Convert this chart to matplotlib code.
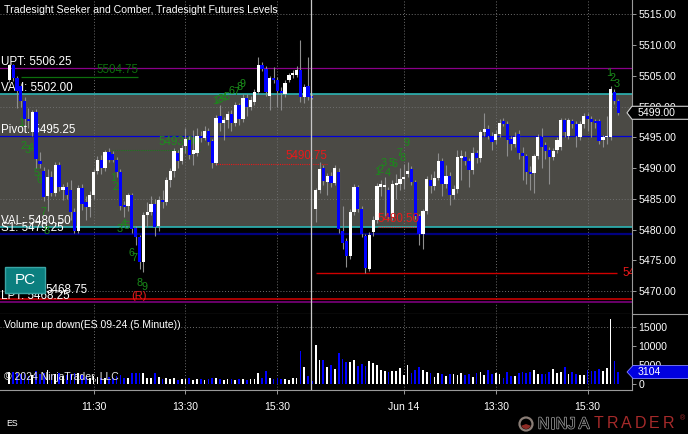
import matplotlib
matplotlib.use("Agg")
import numpy as np
import matplotlib.pyplot as plt
import matplotlib.patheffects as pe
from matplotlib.lines import Line2D
from matplotlib.patches import Polygon, Rectangle, Circle, Wedge
from matplotlib.transforms import blended_transform_factory

plt.rcParams['font.family'] = ['Liberation Sans', 'DejaVu Sans']

TITLE = "Tradesight Seeker and Comber, Tradesight Futures Levels"
VOL_TITLE = "Volume up down(ES 09-24 (5 Minute))"

# ES 09-24, 5 minute bars, Jun 13 (bars 0-79) and Jun 14 (bars 80-159)
opens = [
    5504.4, 5506.7, 5504.6, 5503.3, 5500.9, 5498.0, 5495.8, 5499.1, 5491.1, 5489.5,
    5485.5, 5488.5, 5486.0, 5490.5, 5486.4, 5487.0, 5486.4, 5482.8, 5479.8, 5486.7,
    5484.5, 5483.6, 5485.6, 5489.5, 5491.3, 5490.0, 5492.6, 5492.3, 5491.3, 5489.4,
    5484.0, 5483.8, 5485.6, 5480.2, 5478.8, 5474.8, 5482.3, 5482.9, 5484.1, 5480.6,
    5484.8, 5484.5, 5488.0, 5489.6, 5492.5, 5491.2, 5493.6, 5494.6, 5492.3, 5492.4,
    5495.3, 5494.9, 5496.1, 5494.4, 5490.9, 5498.4, 5497.3, 5497.8, 5498.8, 5497.3,
    5500.2, 5498.0, 5501.4, 5500.0, 5500.7, 5502.3, 5506.8, 5506.2, 5501.8, 5504.6,
    5504.3, 5502.5, 5502.0, 5504.4, 5505.1, 5505.2, 5506.0, 5501.5, 5503.3, 5501.7,
    5483.3, 5486.4, 5490.0, 5487.8, 5488.8, 5487.6, 5489.4, 5479.7, 5478.1, 5475.7,
    5482.8, 5486.9, 5483.3, 5478.9, 5473.6, 5479.6, 5481.6, 5486.9, 5487.0, 5486.5,
    5482.0, 5487.3, 5487.5, 5488.3, 5489.0, 5489.8, 5487.7, 5482.2, 5479.3, 5483.0,
    5488.1, 5487.1, 5488.4, 5491.1, 5487.5, 5488.8, 5485.6, 5486.6, 5491.6, 5491.8,
    5491.2, 5489.7, 5492.5, 5491.6, 5495.8, 5496.3, 5495.3, 5494.5, 5495.6, 5497.6,
    5497.2, 5494.7, 5493.9, 5495.6, 5492.4, 5491.9, 5489.3, 5489.2, 5491.9, 5495.1,
    5493.7, 5493.0, 5491.8, 5493.0, 5493.4, 5497.8, 5495.3, 5497.6, 5497.2, 5495.1,
    5497.2, 5498.5, 5498.0, 5497.6, 5497.6, 5494.5, 5495.0, 5495.1, 5502.3, 5500.9,
]
highs = [
    5507.0, 5507.0, 5505.0, 5503.8, 5501.5, 5499.8, 5499.5, 5499.6, 5492.6, 5490.2,
    5489.8, 5489.5, 5491.0, 5491.0, 5487.5, 5487.8, 5488.0, 5483.5, 5487.3, 5487.5,
    5485.5, 5486.3, 5489.8, 5492.0, 5492.2, 5493.0, 5493.2, 5492.8, 5491.8, 5489.8,
    5484.6, 5486.0, 5486.0, 5480.6, 5479.2, 5482.8, 5484.5, 5485.5, 5485.0, 5485.5,
    5486.5, 5488.5, 5490.0, 5493.2, 5493.0, 5493.8, 5496.5, 5495.2, 5496.2, 5496.5,
    5496.0, 5496.8, 5496.6, 5494.8, 5498.6, 5500.2, 5498.3, 5499.3, 5499.4, 5500.8,
    5500.6, 5502.0, 5502.0, 5501.8, 5502.8, 5508.1, 5507.3, 5506.6, 5505.0, 5506.5,
    5504.8, 5503.2, 5504.4, 5505.5, 5506.0, 5506.6, 5510.9, 5503.6, 5508.0, 5502.0,
    5486.8, 5491.0, 5490.5, 5489.2, 5489.3, 5490.5, 5490.0, 5483.8, 5478.6, 5483.3,
    5487.4, 5487.3, 5483.8, 5479.3, 5479.6, 5482.2, 5487.6, 5488.0, 5488.5, 5487.0,
    5488.0, 5489.0, 5490.0, 5490.6, 5491.0, 5490.3, 5488.1, 5482.6, 5483.4, 5488.8,
    5489.0, 5489.5, 5492.5, 5491.6, 5490.5, 5489.3, 5487.2, 5493.0, 5493.0, 5492.8,
    5491.6, 5493.5, 5493.0, 5496.2, 5499.0, 5497.0, 5495.8, 5496.2, 5498.0, 5498.2,
    5497.6, 5495.3, 5495.8, 5496.2, 5493.5, 5492.3, 5490.3, 5492.3, 5495.5, 5496.5,
    5494.2, 5493.5, 5493.3, 5495.0, 5498.2, 5498.2, 5498.2, 5498.0, 5497.7, 5497.6,
    5498.9, 5499.0, 5498.5, 5498.0, 5498.0, 5495.4, 5498.4, 5503.3, 5502.8, 5501.3,
]
lows = [
    5504.0, 5504.2, 5499.8, 5500.0, 5497.0, 5496.5, 5495.2, 5490.0, 5490.0, 5484.6,
    5483.0, 5485.4, 5485.5, 5486.2, 5484.8, 5485.0, 5481.5, 5479.5, 5479.5, 5483.2,
    5481.5, 5482.0, 5485.0, 5489.0, 5489.0, 5489.5, 5491.0, 5491.0, 5488.5, 5483.2,
    5482.0, 5483.0, 5479.5, 5477.5, 5473.6, 5473.1, 5480.5, 5482.4, 5479.0, 5479.8,
    5483.5, 5484.0, 5487.0, 5488.5, 5490.0, 5490.6, 5492.5, 5491.5, 5490.5, 5492.0,
    5494.3, 5494.5, 5493.8, 5490.1, 5490.5, 5496.0, 5494.5, 5496.5, 5496.0, 5496.8,
    5497.0, 5497.5, 5498.5, 5499.5, 5500.2, 5502.0, 5505.8, 5501.8, 5499.5, 5503.8,
    5500.0, 5499.5, 5501.5, 5504.0, 5504.6, 5504.8, 5500.8, 5500.6, 5501.0, 5501.2,
    5481.2, 5486.0, 5487.3, 5485.7, 5487.0, 5487.2, 5479.5, 5476.9, 5474.0, 5475.2,
    5482.3, 5482.8, 5478.8, 5473.0, 5473.2, 5479.0, 5481.0, 5485.5, 5482.2, 5481.5,
    5481.5, 5485.0, 5486.5, 5486.6, 5488.5, 5487.2, 5481.8, 5477.5, 5476.9, 5482.5,
    5486.0, 5486.5, 5488.0, 5485.5, 5486.8, 5484.0, 5485.0, 5486.0, 5488.0, 5490.5,
    5487.0, 5489.0, 5490.8, 5491.0, 5495.3, 5494.8, 5493.0, 5494.0, 5495.0, 5496.8,
    5492.0, 5493.0, 5493.5, 5491.5, 5488.0, 5487.5, 5486.5, 5486.0, 5491.5, 5490.0,
    5491.5, 5487.5, 5491.3, 5492.5, 5493.0, 5495.0, 5494.8, 5496.6, 5493.5, 5494.5,
    5496.5, 5496.0, 5495.0, 5496.5, 5494.0, 5493.5, 5493.9, 5494.6, 5500.5, 5498.6,
]
closes = [
    5506.8, 5504.6, 5502.5, 5500.9, 5498.0, 5497.6, 5499.1, 5491.5, 5490.6, 5485.3,
    5488.5, 5486.0, 5490.5, 5486.9, 5487.0, 5485.6, 5482.8, 5479.8, 5486.7, 5484.1,
    5483.6, 5485.6, 5489.3, 5491.3, 5490.0, 5492.6, 5491.4, 5491.4, 5489.4, 5483.8,
    5483.6, 5485.6, 5480.1, 5478.8, 5474.8, 5482.4, 5482.9, 5484.1, 5480.4, 5484.8,
    5484.5, 5488.0, 5489.6, 5492.8, 5491.2, 5493.3, 5494.7, 5492.1, 5493.0, 5495.3,
    5494.9, 5496.1, 5494.2, 5490.9, 5498.2, 5497.3, 5497.8, 5498.8, 5497.3, 5500.2,
    5498.0, 5501.4, 5500.0, 5501.0, 5502.3, 5506.8, 5506.2, 5502.3, 5504.6, 5504.3,
    5502.5, 5502.2, 5503.9, 5505.1, 5505.5, 5506.0, 5501.5, 5503.2, 5501.5, 5501.4,
    5486.4, 5489.8, 5487.9, 5488.7, 5487.6, 5490.0, 5480.1, 5477.9, 5475.7, 5482.8,
    5486.9, 5483.3, 5479.3, 5473.7, 5479.2, 5481.6, 5487.1, 5487.4, 5487.2, 5482.0,
    5487.5, 5487.6, 5488.3, 5488.6, 5489.6, 5487.7, 5482.2, 5479.3, 5483.0, 5488.3,
    5487.1, 5488.4, 5491.1, 5487.5, 5488.8, 5485.6, 5486.6, 5491.8, 5491.9, 5491.1,
    5489.7, 5492.5, 5491.6, 5495.8, 5496.4, 5495.3, 5494.3, 5495.6, 5497.4, 5497.2,
    5494.5, 5494.0, 5495.1, 5492.4, 5491.9, 5489.3, 5489.0, 5491.9, 5495.1, 5493.5,
    5492.8, 5491.8, 5492.8, 5494.6, 5497.8, 5495.8, 5497.8, 5497.1, 5495.3, 5497.2,
    5498.4, 5498.0, 5497.5, 5497.3, 5494.4, 5495.0, 5495.1, 5502.9, 5500.9, 5499.0,
]
volumes = [
    3000, 3200, 2900, 2600, 2800, 2000, 2400, 3300, 2500, 2800,
    3700, 2400, 2600, 2900, 2000, 2200, 2500, 2700, 2900, 2300,
    1800, 1600, 2000, 1700, 1600, 1500, 1700, 1600, 1900, 2200,
    1600, 1500, 2900, 2900, 2900, 2700, 1600, 1500, 2900, 1800,
    1300, 1500, 1100, 1400, 1000, 1200, 1300, 1400, 1000, 1100,
    1200, 1000, 1300, 1400, 1400, 1100, 1000, 1200, 1300, 1000,
    1100, 1300, 1000, 1200, 1300, 2900, 1500, 3300, 1400, 1200,
    1500, 1100, 1300, 1000, 1400, 1600, 8600, 4500, 2100, 700,
    10400, 6400, 6400, 4500, 5000, 3900, 8200, 6600, 5700, 5700,
    6200, 4800, 5300, 4800, 5900, 5600, 5000, 3700, 3400, 3200,
    3400, 3400, 4100, 2300, 5000, 2700, 3500, 4500, 3500, 3200,
    2700, 1800, 2900, 2500, 1900, 2500, 2500, 2200, 2700, 2200,
    2500, 1800, 2900, 3200, 2200, 3600, 2500, 2700, 2500, 1400,
    3200, 1900, 1900, 2900, 3200, 2700, 3200, 3600, 2500, 2500,
    2500, 3200, 3800, 2900, 3200, 4500, 2500, 3200, 2500, 2200,
    2200, 3600, 3400, 3300, 3800, 3400, 4100, 17300, 5900, 3104,
]

tick_bars = [22, 46, 70, 103, 127, 151]
tick_labels = ["11:30", "13:30", "15:30", "Jun 14", "13:30", "15:30"]
session_break = 78.8

price_ticks = [5470, 5475, 5480, 5485, 5490, 5495, 5500, 5505, 5510, 5515]
price_grid = [5470, 5485, 5500, 5515]
vol_ticks = [0, 5000, 10000, 15000]

level_names = ["UPT", "VAH", "Pivot", "VAL", "S1", "LPT"]
level_values = [5506.25, 5502.00, 5495.25, 5480.50, 5479.25, 5468.25]
level_colors = ["#8a008a", "#2cb5b5", "#0000d8", "#2cb5b5", "#000080", "#6a006a"]
level_widths = [0.9, 1.2, 0.9, 1.2, 1.6, 1.4]
value_area = (5480.50, 5502.00)
s2_value = 5468.75
day2_low = 5473.00

# seeker / comber counts: (text, bar, price)
counts = [
    ("1", 3.0, 5497.3), ("2", 3.8, 5493.6), ("3", 4.9, 5493.0), ("4", 5.7, 5493.3),
    ("5", 7.2, 5489.2), ("6", 8.0, 5488.1), ("7", 9.0, 5482.9), ("8", 9.8, 5479.8),
    ("1", 27.1, 5488.4), ("2", 27.6, 5486.9), ("3", 28.9, 5480.1), ("4", 30.0, 5480.9),
    ("5", 30.7, 5480.6), ("6", 32.0, 5476.2), ("7", 32.8, 5475.4), ("8", 34.1, 5471.3),
    ("9", 35.2, 5470.7),
    ("1", 53.7, 5500.9), ("2", 54.5, 5501.1), ("3", 55.3, 5501.2), ("4", 56.1, 5501.4),
    ("5", 56.8, 5501.6), ("6", 58.1, 5502.5), ("7", 59.2, 5502.4), ("8", 60.0, 5503.2),
    ("9", 61.0, 5503.7),
    ("1", 96.0, 5489.4), ("2", 96.8, 5489.7), ("3", 97.8, 5490.9), ("4", 98.9, 5489.2),
    ("5", 99.9, 5490.9), ("6", 100.7, 5490.7), ("7", 102.0, 5492.5), ("8", 102.8, 5491.6),
    ("9", 103.8, 5494.1),
    ("1", 156.6, 5505.5), ("2", 157.6, 5504.7), ("3", 158.7, 5503.7),
]
# count-based reference lines: (price, first bar, last bar)
seeker_green = (5504.75, 3.0, 33.6)
seeker_green2 = (5493.00, 26.8, 49.8)
comber_red = (5490.75, 53.7, 83.0)
comber_red2 = (5480.50, 96.3, 106.8)

W, H = 688, 434
X0, BAR_PX = 9.3, 3.83
P_RANGE = (5466.28, 5517.34)
V_RANGE = (-1700, 18560)

GREEN = "#1a8c1a"
RED = "#e8191a"
GRAYLINE = "#9a9a9a"


def fx(px):
    return px / W


def fy(py):
    return 1 - py / H


def bx(px):
    return (px - X0) / BAR_PX


fig = plt.figure(figsize=(W / 100, H / 100), dpi=100, facecolor="black")
ax = fig.add_axes([0, fy(314), fx(632), 314 / H], facecolor="black")
axv = fig.add_axes([0, fy(390), fx(632), 76 / H], facecolor="black")

o = np.array(opens)
c = np.array(closes)
hi = np.array(highs)
lo = np.array(lows)
x = np.arange(len(o))
colors = np.where(c >= o, "#ffffff", "#0000ff")

for a in (ax, axv):
    a.set_xlim(bx(0), bx(632))
    for s in a.spines.values():
        s.set_visible(False)
    for s in ("right", "bottom"):
        a.spines[s].set_visible(True)
        a.spines[s].set_color(GRAYLINE)
        a.spines[s].set_linewidth(0.8)
    for tb in tick_bars:
        a.axvline(tb, color="#6e6e6e", lw=0.7, ls=(0, (1, 2)), zorder=1)
    a.axvline(session_break, color="#c8c8c8", lw=0.9, zorder=6)

# price panel
ax.set_ylim(*P_RANGE)
ax.axhspan(*value_area, color="#4b4a45", zorder=0, lw=0)
for g in price_grid:
    ax.axhline(g, color="#6e6e6e", lw=0.7, ls=(0, (1, 2)), zorder=1)
for v, col, lw in zip(level_values, level_colors, level_widths):
    ax.axhline(v, color=col, lw=lw, zorder=2)
ax.axhline(s2_value, color="#d80000", lw=1.1, zorder=2)
for name, v in zip(level_names, level_values):
    ax.text(bx(1), v, f"{name}: {v:.2f}", color="white", fontsize=8.4,
            va="bottom", ha="left", zorder=2.5)
ax.text(bx(45), s2_value + 0.5, f"{s2_value:.2f}", color="white", fontsize=8.4,
        va="bottom", ha="left", zorder=2.5)

p, b0, b1 = seeker_green
ax.hlines(p, b0, b1, color="#0c6e0c", lw=0.9, zorder=2)
ax.text(b1, p + 0.2, f"{p:.2f}", color="#0c6e0c", fontsize=8.3, ha="right", va="bottom", zorder=2.5)
p, b0, b1 = seeker_green2
ax.hlines(p, b0, b1, color="#1a7a1a", lw=0.8, ls=(0, (1, 1)), zorder=2)
ax.text(b1, p + 0.2, f"{p:.2f}", color="#1f8a1f", fontsize=8.3, ha="right", va="bottom", zorder=2.5)
p, b0, b1 = comber_red
ax.hlines(p, b0, b1, color=RED, lw=0.8, ls=(0, (1, 1)), zorder=2)
ax.text(b1, p + 0.2, f"{p:.2f}", color=RED, fontsize=8.3, ha="right", va="bottom", zorder=2.5)
p, b0, b1 = comber_red2
ax.hlines(p, b0, b1, color=RED, lw=0.8, ls=(0, (1, 1)), zorder=2.2)
ax.text((b0 + b1) / 2, p + 0.2, f"{p:.2f}", color=RED, fontsize=8.3, ha="center", va="bottom", zorder=5)

ax.hlines(day2_low, 80, bx(617), color="#d00000", lw=1.0, zorder=2)
ax.text(bx(622), day2_low, f"{day2_low:.2f}", color=RED, fontsize=8.3, ha="left",
        va="center", clip_on=True, zorder=5)

for t, xb, yp in counts:
    ax.text(xb, yp, t, color=GREEN, fontsize=7.8, ha="center", va="center", zorder=2.6)
ax.text(33.9, 5469.2, "(R)", color=RED, fontsize=8, ha="center", va="center", zorder=5)

# candles
ax.vlines(x, lo, hi, color="#8e8e8e", lw=0.8, zorder=3)
body_low = np.minimum(o, c)
body_h = np.maximum(np.abs(c - o), 0.15)
ax.bar(x, body_h, bottom=body_low, width=0.85, color=colors, lw=0, zorder=4)

ax.yaxis.tick_right()
ax.set_yticks(price_ticks)
ax.set_yticklabels([f"{t:.2f}" for t in price_ticks])
ax.tick_params(axis="y", length=3, width=0.7, color=GRAYLINE, labelcolor="white",
               labelsize=7.6, pad=1.5)
ax.tick_params(axis="x", bottom=False, labelbottom=False)

# volume panel
axv.set_ylim(*V_RANGE)
axv.axhline(15000, color="#6e6e6e", lw=0.7, ls=(0, (1, 2)), zorder=1)
axv.bar(x, volumes, width=0.45, color=colors, lw=0, zorder=3)
axv.yaxis.tick_right()
axv.set_yticks(vol_ticks)
axv.set_yticklabels([str(t) for t in vol_ticks])
axv.tick_params(axis="y", length=3, width=0.7, color=GRAYLINE, labelcolor="white",
                labelsize=7.6, pad=1.5)
axv.set_xticks(tick_bars)
axv.set_xticklabels(tick_labels)
axv.tick_params(axis="x", length=3, width=0.7, color=GRAYLINE, labelcolor="white",
                labelsize=7.5, pad=6)

# last price / last volume markers
tp = blended_transform_factory(fig.transFigure, ax.transData)
half = 6.5 * (P_RANGE[1] - P_RANGE[0]) / 314
lc = closes[-1]
ax.add_patch(Polygon([(fx(627), lc), (fx(632), lc + half), (fx(690), lc + half),
                      (fx(690), lc - half), (fx(632), lc - half)], closed=True,
                     transform=tp, facecolor="black", edgecolor="#d0d0d0", lw=0.8,
                     clip_on=False, zorder=20))
ax.text(fx(638), lc, f"{lc:.2f}", transform=tp, color="white", fontsize=7.6,
        va="center", ha="left", clip_on=False, zorder=21)

tv = blended_transform_factory(fig.transFigure, axv.transData)
vhalf = 6.5 * (V_RANGE[1] - V_RANGE[0]) / 76
lv = volumes[-1]
axv.add_patch(Polygon([(fx(627), lv), (fx(633), lv + vhalf), (fx(690), lv + vhalf),
                       (fx(690), lv - vhalf), (fx(633), lv - vhalf)], closed=True,
                      transform=tv, facecolor="#0000e0", edgecolor="#8080ff", lw=0.6,
                      clip_on=False, zorder=20))
axv.text(fx(638), lv, str(lv), transform=tv, color="white", fontsize=7.6,
         va="center", ha="left", clip_on=False, zorder=21)

# figure furniture
fig.add_artist(Line2D([fx(632), 1], [fy(314), fy(314)], color=GRAYLINE, lw=0.8))
fig.text(fx(4), fy(10), TITLE, color="white", fontsize=7.6, va="center", ha="left")
fig.text(fx(4), fy(325), VOL_TITLE, color="white", fontsize=7.5, va="center", ha="left")
fig.text(fx(4), fy(377), "\u00a9 2024 NinjaTrader, LLC", color="#e8e8e8", fontsize=7.5,
         va="center", ha="left", zorder=30)
fig.text(fx(6), fy(424), "ES", color="white", fontsize=6.3, va="center", ha="left")

fig.patches.append(Rectangle((fx(5), fy(293)), fx(40), 26 / H, transform=fig.transFigure,
                             facecolor="#0b7f7f", edgecolor="#3aa5a5", lw=1.0, zorder=30))
fig.text(fx(25), fy(280), "PC", color="white", fontsize=11, ha="center", va="center", zorder=31)

# NinjaTrader logo
fig.patches.append(Circle((526 / 100, (H - 424) / 100), 0.065, transform=fig.dpi_scale_trans,
                          facecolor="none", edgecolor="#8a7d76", lw=1.6))
fig.patches.append(Wedge((526 / 100, (H - 424) / 100), 0.05, 200, 340,
                         transform=fig.dpi_scale_trans, facecolor="#8c2a24", edgecolor="none"))
ninja = [("N", 543.5), ("I", 553), ("N", 561.5), ("J", 571.5), ("A", 584)]
trader = [("T", 598), ("R", 612), ("A", 626), ("D", 640), ("E", 654), ("R", 668)]
for ch, px in ninja:
    fig.text(fx(px), fy(424), ch, color="black", fontsize=11.5, ha="center", va="center",
             path_effects=[pe.withStroke(linewidth=1.1, foreground="#9a9a9a")])
for ch, px in trader:
    fig.text(fx(px), fy(424), ch, color="#a52a2a", fontsize=11.5, ha="center", va="center")
fig.text(fx(682), fy(419), "\u00ae", color="#a52a2a", fontsize=5, ha="center", va="center")

fig.savefig("out.png", dpi=100, facecolor="black")
